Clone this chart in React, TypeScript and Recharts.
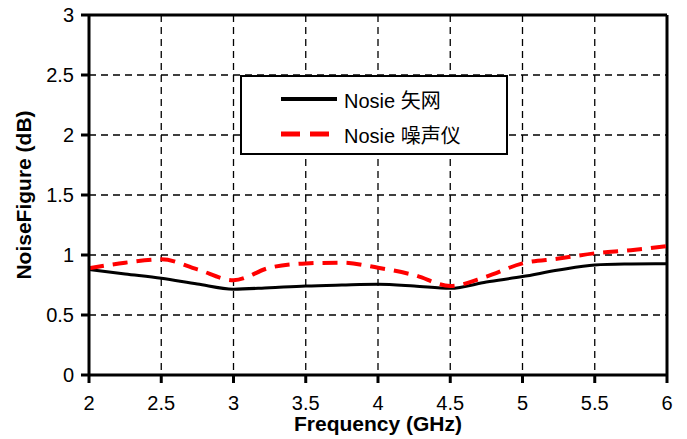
import React from "react";
import { LineChart, Line, XAxis, YAxis, CartesianGrid, ReferenceLine } from "recharts";

const freq = [2, 2.25, 2.5, 2.75, 3, 3.25, 3.5, 3.75, 4, 4.25, 4.5, 4.75, 5, 5.25, 5.5, 5.75, 6];
const vnaNoise = [0.88, 0.842, 0.806, 0.758, 0.715, 0.728, 0.742, 0.75, 0.756, 0.742, 0.722, 0.775, 0.82, 0.875, 0.917, 0.925, 0.928];
const analyzerNoise = [0.889, 0.936, 0.964, 0.88, 0.79, 0.894, 0.93, 0.936, 0.894, 0.833, 0.742, 0.82, 0.93, 0.97, 1.014, 1.04, 1.075];
const xTicks = [2, 2.5, 3, 3.5, 4, 4.5, 5, 5.5, 6];
const yTicks = [0, 0.5, 1, 1.5, 2, 2.5, 3];
const seriesNames = ["Nosie 矢网", "Nosie 噪声仪"];

const data = freq.map((f, i) => ({ f, a: vnaNoise[i], b: analyzerNoise[i] }));

const FONT = "'Liberation Sans', Arial, 'Noto Sans CJK SC', sans-serif";

const fmt = (v: number) => String(v);

export default function App() {
  return (
    <div style={{ position: "absolute", left: 0, top: 0, width: 687, height: 439, background: "#fff", fontFamily: FONT }}>
      <LineChart width={687} height={439} data={data} margin={{ top: 15, right: 20, bottom: 34, left: 0 }}>
        <CartesianGrid stroke="#000" strokeDasharray="7 5" strokeWidth={1.3} horizontalValues={yTicks} verticalValues={xTicks} />
        <XAxis
          dataKey="f"
          type="number"
          domain={[2, 6]}
          ticks={xTicks}
          tickFormatter={fmt}
          height={30}
          stroke="#000"
          strokeWidth={3}
          tickSize={8}
          tickMargin={13}
          tick={{ fill: "#000", fontSize: 20, fontFamily: FONT }}
          label={{ value: "Frequency (GHz)", position: "insideBottom", offset: -26, fill: "#000", fontSize: 21, fontWeight: "bold", fontFamily: FONT }}
        />
        <YAxis
          type="number"
          domain={[0, 3]}
          ticks={yTicks}
          tickFormatter={fmt}
          width={89}
          stroke="#000"
          strokeWidth={3}
          tickSize={8}
          tickMargin={7}
          tick={{ fill: "#000", fontSize: 20, fontFamily: FONT }}
          label={{ value: "NoiseFigure (dB)", angle: -90, position: "insideLeft", offset: 24, style: { textAnchor: "middle" }, fill: "#000", fontSize: 21, fontWeight: "bold", fontFamily: FONT }}
        />
        <ReferenceLine y={3} stroke="#000" strokeWidth={3} />
        <ReferenceLine x={6} stroke="#000" strokeWidth={3} />
        <Line type="monotone" dataKey="a" name={seriesNames[0]} stroke="#000" strokeWidth={3} dot={false} isAnimationActive={false} />
        <Line type="monotone" dataKey="b" name={seriesNames[1]} stroke="#ff0000" strokeWidth={4} strokeDasharray="15 9" dot={false} isAnimationActive={false} />
      </LineChart>
      <div
        style={{
          position: "absolute",
          left: 240,
          top: 75,
          width: 264,
          height: 76,
          border: "2px solid #000",
          background: "#fff",
          boxSizing: "content-box",
        }}
      >
        {seriesNames.map((n, i) => (
          <div key={n} style={{ position: "absolute", left: 38, top: i === 0 ? 9 : 44, height: 26, display: "flex", alignItems: "center" }}>
            <svg width={58} height={8} style={{ display: "block" }}>
              {i === 0 ? (
                <line x1={1} y1={4} x2={57} y2={4} stroke="#000" strokeWidth={4} />
              ) : (
                <line x1={1} y1={4} x2={57} y2={4} stroke="#ff0000" strokeWidth={5} strokeDasharray="19 10" />
              )}
            </svg>
            <span style={{ marginLeft: 6, fontSize: 20, color: "#000", fontFamily: FONT, whiteSpace: "nowrap" }}>{n}</span>
          </div>
        ))}
      </div>
    </div>
  );
}
